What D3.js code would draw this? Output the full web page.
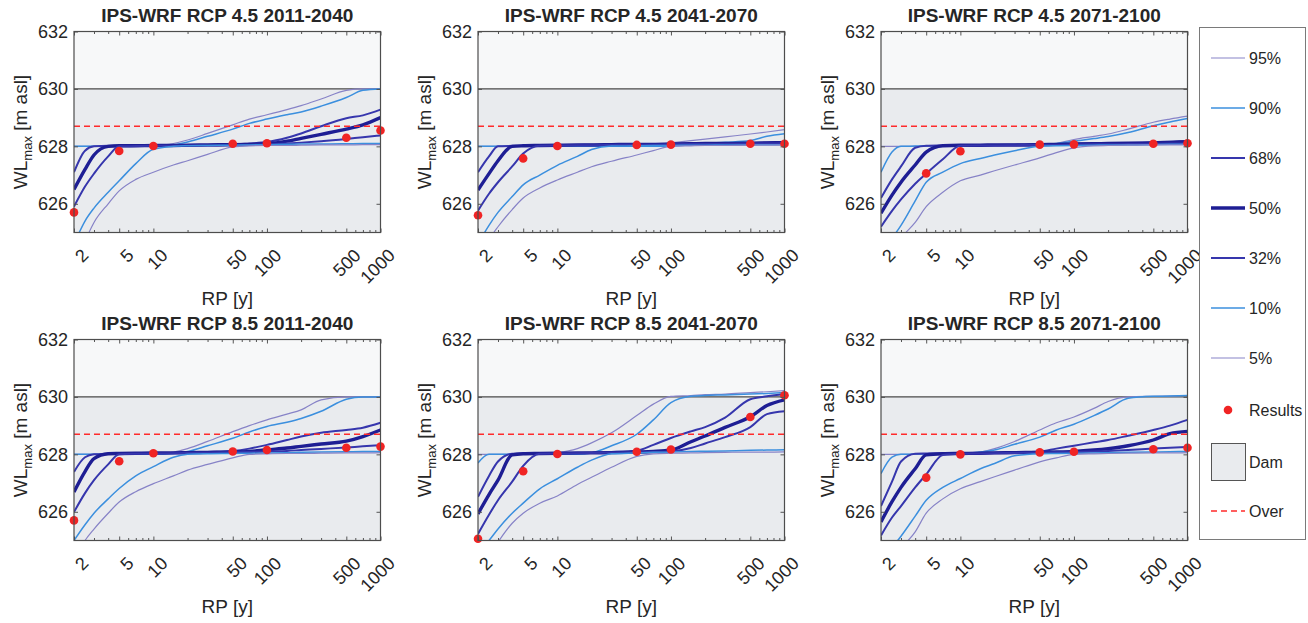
<!DOCTYPE html>
<html>
<head>
<meta charset="utf-8">
<script src="https://cdnjs.cloudflare.com/ajax/libs/d3/7.8.5/d3.min.js"></script>
<style>
  body { margin: 0; background: #fff; }
  text { font-family: "Liberation Sans", Arial, sans-serif; fill: #262626; }
</style>
</head>
<body>
<div id="chart"></div>
<script>
// return periods where the curves were read, and the result points
var rpGrid = [2, 2.5, 3, 4, 5, 7, 10, 15, 20, 30, 50, 70, 100, 150, 200, 300, 500, 700, 1000];
var rpResults = [2, 5, 10, 50, 100, 500, 1000];
var rpTicks = [2, 5, 10, 50, 100, 500, 1000];
var yTicks = [626, 628, 630, 632];
var quantiles = ["95%", "90%", "68%", "50%", "32%", "10%", "5%"];
var damLevel = 630;
var overLevel = 628.7;

var titles = ["IPS-WRF RCP 4.5 2011-2040", "IPS-WRF RCP 4.5 2041-2070", "IPS-WRF RCP 4.5 2071-2100",
              "IPS-WRF RCP 8.5 2011-2040", "IPS-WRF RCP 8.5 2041-2070", "IPS-WRF RCP 8.5 2071-2100"];

// RCP 4.5 2011-2040
var p1_q95 = [628.0,628.0,628.0,628.0,628.0,628.0,628.02,628.1,628.22,628.45,628.75,628.95,629.1,629.28,629.42,629.65,629.95,630.0,630.0];
var p1_q90 = [628.0,628.0,628.0,628.0,628.0,628.0,628.0,628.05,628.15,628.35,628.6,628.8,628.95,629.1,629.2,629.4,629.7,629.95,630.0];
var p1_q68 = [627.1,627.85,628.0,628.02,628.02,628.02,628.03,628.03,628.04,628.05,628.06,628.1,628.15,628.3,628.45,628.7,628.98,629.08,629.28];
var p1_q50 = [626.5,627.2,627.7,628.0,628.02,628.02,628.03,628.03,628.04,628.05,628.06,628.07,628.09,628.18,628.28,628.42,628.6,628.75,629.0];
var p1_q32 = [625.9,626.6,627.05,627.65,628.0,628.01,628.02,628.02,628.03,628.03,628.04,628.05,628.07,628.1,628.13,628.18,628.26,628.32,628.38];
var p1_q10 = [624.6,625.4,625.85,626.4,626.8,627.4,627.9,628.0,628.02,628.03,628.04,628.05,628.06,628.07,628.08,628.08,628.09,628.1,628.1];
var p1_q5  = [623.8,624.7,625.35,626.0,626.45,626.85,627.1,627.35,627.5,627.72,627.98,628.02,628.03,628.03,628.04,628.05,628.05,628.06,628.06];
var p1_res = [625.7,627.84,628.01,628.09,628.11,628.3,628.55];

// RCP 4.5 2041-2070
var p2_q95 = [628.0,628.0,628.0,628.0,628.0,628.0,628.0,628.0,628.0,628.0,628.0,628.04,628.12,628.2,628.25,628.33,628.43,628.5,628.58];
var p2_q90 = [628.0,628.0,628.0,628.0,628.0,628.0,628.0,628.0,628.0,628.0,628.0,628.0,628.02,628.06,628.1,628.14,628.2,628.35,628.44];
var p2_q68 = [627.1,627.65,628.0,628.02,628.03,628.04,628.05,628.05,628.06,628.06,628.07,628.08,628.08,628.09,628.1,628.11,628.12,628.13,628.15];
var p2_q50 = [626.48,627.05,627.5,628.0,628.02,628.03,628.04,628.05,628.05,628.06,628.07,628.07,628.08,628.09,628.1,628.1,628.11,628.12,628.13];
var p2_q32 = [625.76,626.35,626.75,627.3,627.75,628.02,628.03,628.04,628.04,628.05,628.06,628.06,628.07,628.08,628.08,628.09,628.1,628.1,628.11];
var p2_q10 = [624.6,625.25,625.7,626.25,626.66,627.0,627.34,627.65,627.89,628.01,628.02,628.03,628.03,628.04,628.04,628.05,628.05,628.06,628.06];
var p2_q5  = [624.0,624.75,625.2,625.8,626.2,626.55,626.83,627.1,627.29,627.48,627.7,627.85,628.0,628.02,628.03,628.03,628.04,628.04,628.05];
var p2_res = [625.6,627.58,628.01,628.05,628.06,628.09,628.09];

// RCP 4.5 2071-2100
var p3_q95 = [628.0,628.0,628.0,628.0,628.0,628.0,628.0,628.0,628.0,628.0,628.02,628.1,628.24,628.35,628.43,628.6,628.84,628.95,629.05];
var p3_q90 = [627.1,627.8,628.0,628.01,628.02,628.02,628.03,628.03,628.04,628.05,628.06,628.1,628.18,628.27,628.34,628.48,628.72,628.85,628.97];
var p3_q68 = [626.2,626.85,627.3,627.95,628.02,628.03,628.04,628.05,628.05,628.06,628.07,628.08,628.09,628.1,628.11,628.12,628.14,628.16,628.2];
var p3_q50 = [625.67,626.3,626.75,627.35,627.8,628.02,628.04,628.04,628.05,628.05,628.06,628.07,628.08,628.09,628.1,628.11,628.12,628.14,628.16];
var p3_q32 = [625.2,625.75,626.15,626.7,627.05,627.55,628.02,628.03,628.03,628.04,628.05,628.05,628.06,628.07,628.07,628.08,628.09,628.1,628.1];
var p3_q10 = [624.3,624.8,625.25,626.1,626.75,627.1,627.4,627.58,627.7,627.85,628.0,628.02,628.03,628.04,628.05,628.05,628.06,628.07,628.08];
var p3_q5  = [623.5,624.3,624.8,625.35,625.9,626.4,626.8,627.0,627.15,627.35,627.6,627.78,627.95,628.02,628.03,628.04,628.05,628.05,628.06];
var p3_res = [624.5,627.06,627.83,628.06,628.07,628.09,628.11];

// RCP 8.5 2011-2040
var p4_q95 = [628.0,628.0,628.0,628.0,628.0,628.0,628.0,628.08,628.2,628.45,628.79,629.0,629.2,629.4,629.55,629.9,630.0,630.0,630.0];
var p4_q90 = [628.0,628.0,628.0,628.0,628.0,628.0,628.0,628.03,628.1,628.3,628.56,628.78,628.97,629.12,629.25,629.5,629.92,630.0,630.0];
var p4_q68 = [627.39,627.9,628.0,628.02,628.03,628.04,628.05,628.05,628.06,628.08,628.12,628.2,628.33,628.5,628.62,628.75,628.85,628.93,629.1];
var p4_q50 = [626.69,627.4,627.85,628.02,628.03,628.04,628.05,628.05,628.06,628.07,628.08,628.1,628.16,628.22,628.28,628.36,628.46,628.62,628.85];
var p4_q32 = [625.99,626.65,627.1,627.65,628.0,628.02,628.03,628.04,628.05,628.06,628.07,628.08,628.1,628.12,628.15,628.19,628.24,628.28,628.32];
var p4_q10 = [625.0,625.55,625.95,626.45,626.81,627.25,627.57,627.9,628.0,628.02,628.03,628.04,628.05,628.06,628.07,628.08,628.09,628.1,628.1];
var p4_q5  = [624.3,625.0,625.4,625.95,626.34,626.7,626.98,627.25,627.45,627.65,627.88,628.0,628.02,628.03,628.03,628.04,628.05,628.05,628.06];
var p4_res = [625.7,627.76,628.04,628.1,628.15,628.23,628.27];

// RCP 8.5 2041-2070
var p5_q95 = [628.0,628.0,628.0,628.0,628.0,628.0,628.05,628.2,628.4,628.75,629.35,629.75,630.02,630.05,630.08,630.1,630.15,630.18,630.22];
var p5_q90 = [627.7,628.0,628.0,628.0,628.0,628.0,628.0,628.0,628.05,628.3,628.7,629.2,629.8,630.02,630.05,630.07,630.1,630.12,630.15];
var p5_q68 = [626.52,627.25,627.75,628.02,628.03,628.04,628.05,628.05,628.06,628.08,628.13,628.33,628.57,628.8,628.95,629.28,629.92,630.02,630.1];
var p5_q50 = [625.93,626.6,627.1,627.98,628.02,628.03,628.04,628.05,628.05,628.06,628.08,628.1,628.15,628.44,628.64,628.94,629.31,629.7,629.9];
var p5_q32 = [625.23,625.9,626.4,627.05,627.6,628.02,628.03,628.04,628.05,628.06,628.07,628.08,628.1,628.22,628.38,628.6,628.95,629.4,629.5];
var p5_q10 = [624.6,625.0,625.4,625.95,626.3,626.8,627.15,627.55,627.8,628.02,628.05,628.07,628.08,628.1,628.11,628.12,628.14,628.15,628.16];
var p5_q5  = [623.7,624.5,624.95,625.6,625.95,626.3,626.55,626.95,627.2,627.55,627.93,628.02,628.04,628.05,628.06,628.07,628.08,628.08,628.09];
var p5_res = [625.06,627.41,628.01,628.09,628.17,629.3,630.06];

// RCP 8.5 2071-2100
var p6_q95 = [628.0,628.0,628.0,628.0,628.0,628.0,628.0,628.08,628.2,628.45,628.85,629.1,629.3,629.6,629.84,630.0,630.02,630.03,630.05];
var p6_q90 = [627.33,627.9,628.0,628.01,628.02,628.02,628.03,628.08,628.15,628.35,628.6,628.85,629.05,629.35,629.58,629.95,630.02,630.03,630.05];
var p6_q68 = [626.2,627.05,627.75,628.02,628.03,628.04,628.05,628.05,628.06,628.07,628.1,628.2,628.3,628.42,628.5,628.65,628.85,629.0,629.2];
var p6_q50 = [625.65,626.35,626.85,627.5,627.98,628.02,628.03,628.04,628.05,628.06,628.07,628.08,628.1,628.15,628.2,628.3,628.5,628.72,628.8];
var p6_q32 = [625.17,625.8,626.2,626.85,627.3,627.98,628.02,628.03,628.04,628.05,628.06,628.07,628.08,628.1,628.12,628.15,628.2,628.23,628.26];
var p6_q10 = [624.2,624.75,625.15,625.85,626.4,626.85,627.16,627.5,627.68,627.95,628.02,628.03,628.04,628.05,628.06,628.07,628.08,628.09,628.1];
var p6_q5  = [623.5,624.2,624.7,625.3,625.95,626.45,626.8,627.05,627.22,627.45,627.74,627.88,628.0,628.02,628.03,628.04,628.05,628.05,628.06];
var p6_res = [624.5,627.19,628.0,628.07,628.09,628.18,628.23];

var panels = [
  { curves: [p1_q95, p1_q90, p1_q68, p1_q50, p1_q32, p1_q10, p1_q5], results: p1_res },
  { curves: [p2_q95, p2_q90, p2_q68, p2_q50, p2_q32, p2_q10, p2_q5], results: p2_res },
  { curves: [p3_q95, p3_q90, p3_q68, p3_q50, p3_q32, p3_q10, p3_q5], results: p3_res },
  { curves: [p4_q95, p4_q90, p4_q68, p4_q50, p4_q32, p4_q10, p4_q5], results: p4_res },
  { curves: [p5_q95, p5_q90, p5_q68, p5_q50, p5_q32, p5_q10, p5_q5], results: p5_res },
  { curves: [p6_q95, p6_q90, p6_q68, p6_q50, p6_q32, p6_q10, p6_q5], results: p6_res }
];

// line style per quantile (same order as quantiles)
var lineColor = ["#8783c7", "#3b8fde", "#3636ad", "#1e1e94", "#3636ad", "#3b8fde", "#8783c7"];
var lineWidth = [1.2, 1.5, 2, 3.4, 2, 1.5, 1.2];
var dotColor = "#f02424";
var damFill = "#e9ebee";

var svgWidth = 1308, svgHeight = 623;
var colLeft = [74, 478, 881];
var rowTop = [31.5, 339.5];
var plotW = 306.5, plotH = 201;

var svg = d3.select("#chart").append("svg")
  .attr("width", svgWidth)
  .attr("height", svgHeight);

var x = d3.scaleLog().domain([2, 1000]).range([0, plotW]);
var y = d3.scaleLinear().domain([625, 632]).range([plotH, 0]);

var minorTicks = [];
[1, 10, 100].forEach(function(m) {
  for (var k = 2; k <= 9; k++) {
    var v = k * m;
    if (v > 2 && v < 1000 && rpTicks.indexOf(v) < 0) minorTicks.push(v);
  }
});

var line = d3.line()
  .curve(d3.curveMonotoneX)
  .x(function(d) { return x(d[0]); })
  .y(function(d) { return y(d[1]); });

panels.forEach(function(p, i) {
  var col = i % 3, row = Math.floor(i / 3);
  var g = svg.append("g")
    .attr("transform", `translate(${colLeft[col]}, ${rowTop[row]})`);

  g.append("clipPath").attr("id", "clip" + i)
    .append("rect").attr("width", plotW).attr("height", plotH);

  // plot background and dam patch
  g.append("rect")
    .attr("width", plotW).attr("height", plotH)
    .attr("fill", "#f7f8f9");

  g.append("rect")
    .attr("y", y(damLevel))
    .attr("width", plotW)
    .attr("height", plotH - y(damLevel))
    .attr("fill", damFill);

  g.append("line")
    .attr("x1", 0).attr("x2", plotW)
    .attr("y1", y(damLevel)).attr("y2", y(damLevel))
    .attr("stroke", "#4a4a4a").attr("stroke-width", 1.2);

  // quantile curves
  var curveGroup = g.append("g").attr("clip-path", `url(#clip${i})`);
  p.curves.forEach(function(vals, k) {
    curveGroup.append("path")
      .datum(rpGrid.map(function(r, j) { return [r, vals[j]]; }))
      .attr("fill", "none")
      .attr("stroke", lineColor[k])
      .attr("stroke-width", lineWidth[k])
      .attr("stroke-linejoin", "round")
      .attr("d", line);
  });

  // overtopping level
  g.append("line")
    .attr("x1", 0).attr("x2", plotW)
    .attr("y1", y(overLevel)).attr("y2", y(overLevel))
    .attr("stroke", "#ff2b2b")
    .attr("stroke-width", 1.6)
    .attr("stroke-dasharray", "6,4");

  // results
  g.selectAll(".dot")
    .data(rpResults.map(function(r, j) { return [r, p.results[j]]; })
      .filter(function(d) { return d[1] >= 624.9; }))
    .enter()
    .append("circle")
    .attr("cx", function(d) { return x(d[0]); })
    .attr("cy", function(d) { return y(d[1]); })
    .attr("r", 4.3)
    .attr("fill", dotColor);

  // axes: ticks pointing inwards on all four sides
  var bottomAxis = d3.axisBottom(x).tickValues(rpTicks).tickFormat(d3.format("d"))
    .tickSizeInner(-4).tickSizeOuter(0);
  var gx = g.append("g").attr("transform", `translate(0, ${plotH})`).call(bottomAxis);
  gx.selectAll(".tick text")
    .attr("y", null)
    .attr("dy", "0.71em")
    .attr("text-anchor", "end")
    .attr("transform", "translate(6, 15) rotate(-45)");

  g.append("g").attr("transform", `translate(0, ${plotH})`)
    .call(d3.axisBottom(x).tickValues(minorTicks).tickFormat("").tickSizeInner(-2.5).tickSizeOuter(0));
  g.append("g")
    .call(d3.axisTop(x).tickValues(rpTicks).tickFormat("").tickSizeInner(-4).tickSizeOuter(0));
  g.append("g")
    .call(d3.axisTop(x).tickValues(minorTicks).tickFormat("").tickSizeInner(-2.5).tickSizeOuter(0));

  var leftAxis = d3.axisLeft(y).tickValues(yTicks).tickFormat(d3.format("d"))
    .tickSizeInner(-4).tickSizeOuter(0).tickPadding(6);
  g.append("g").call(leftAxis);
  g.append("g").attr("transform", `translate(${plotW}, 0)`)
    .call(d3.axisRight(y).tickValues(yTicks).tickFormat("").tickSizeInner(-4).tickSizeOuter(0));

  g.selectAll(".domain").remove();
  g.selectAll(".tick line").attr("stroke", "#555");
  g.selectAll(".tick text").attr("font-size", 18).attr("fill", "#262626")
    .style("font-family", '"Liberation Sans", Arial, sans-serif');

  // frame
  g.append("rect")
    .attr("width", plotW).attr("height", plotH)
    .attr("fill", "none")
    .attr("stroke", "#4d4d4d")
    .attr("stroke-width", 1.2);

  // title and axis labels
  g.append("text")
    .attr("x", plotW / 2).attr("y", -10)
    .attr("text-anchor", "middle")
    .attr("font-size", 19)
    .attr("font-weight", "bold")
    .attr("fill", "#111")
    .text(titles[i]);

  g.append("text")
    .attr("x", plotW / 2).attr("y", plotH + 72)
    .attr("text-anchor", "middle")
    .attr("font-size", 19)
    .text("RP [y]");

  var yl = g.append("text")
    .attr("transform", "rotate(-90)")
    .attr("x", -plotH / 2)
    .attr("y", -47)
    .attr("text-anchor", "middle")
    .attr("font-size", 19);
  yl.append("tspan").text("WL");
  yl.append("tspan").attr("font-size", 13).attr("dy", 5).text("max");
  yl.append("tspan").attr("dy", -5).text(" [m asl]");
});

// legend
var legend = svg.append("g");
legend.append("rect")
  .attr("x", 1199.5).attr("y", 27.5)
  .attr("width", 106).attr("height", 512)
  .attr("fill", "#fff")
  .attr("stroke", "#7a7a7a");

var legendY = [58, 108, 158, 208, 258, 308, 358];
quantiles.forEach(function(q, k) {
  legend.append("line")
    .attr("x1", 1211).attr("x2", 1245)
    .attr("y1", legendY[k]).attr("y2", legendY[k])
    .attr("stroke", lineColor[k])
    .attr("stroke-width", lineWidth[k]);
  legend.append("text")
    .attr("x", 1249).attr("y", legendY[k])
    .attr("dy", "0.35em")
    .attr("font-size", 16)
    .text(q);
});

legend.append("circle")
  .attr("cx", 1228).attr("cy", 410).attr("r", 4.3)
  .attr("fill", dotColor);
legend.append("text")
  .attr("x", 1249).attr("y", 410).attr("dy", "0.35em")
  .attr("font-size", 16).text("Results");

legend.append("rect")
  .attr("x", 1211.5).attr("y", 443.5)
  .attr("width", 34).attr("height", 37)
  .attr("fill", damFill)
  .attr("stroke", "#555");
legend.append("text")
  .attr("x", 1249).attr("y", 462).attr("dy", "0.35em")
  .attr("font-size", 16).text("Dam");

legend.append("line")
  .attr("x1", 1211).attr("x2", 1245)
  .attr("y1", 511).attr("y2", 511)
  .attr("stroke", "#ff2b2b")
  .attr("stroke-width", 1.6)
  .attr("stroke-dasharray", "6,4");
legend.append("text")
  .attr("x", 1249).attr("y", 511).attr("dy", "0.35em")
  .attr("font-size", 16).text("Over");
</script>
</body>
</html>
